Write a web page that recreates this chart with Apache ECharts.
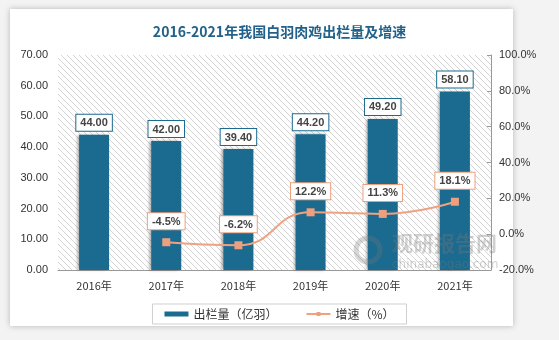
<!DOCTYPE html>
<html><head><meta charset="utf-8">
<script src="https://cdn.jsdelivr.net/npm/echarts@6/dist/echarts.min.js"></script>
<style>html,body{margin:0;padding:0;background:#f3f3f3;}#c{width:559px;height:340px;}</style>
</head><body><div id="c"></div>
<script>
const categories = ['2016年','2017年','2018年','2019年','2020年','2021年'];
const output = [44.00, 42.00, 39.40, 44.20, 49.20, 58.10];
const growth = [null, -4.5, -6.2, 12.2, 11.3, 18.1];
const leftTicks = [0,10,20,30,40,50,60,70];
const rightTicks = [-20,0,20,40,60,80,100];

const pc = document.createElement('canvas');
pc.width = 6; pc.height = 6;
const g = pc.getContext('2d');
g.fillStyle = '#ffffff'; g.fillRect(0,0,6,6);
g.strokeStyle = '#d4d4d4'; g.lineWidth = 1;
g.beginPath(); g.moveTo(-1,-1); g.lineTo(7,7); g.moveTo(-1,5); g.lineTo(1,7); g.moveTo(5,-1); g.lineTo(7,1); g.stroke();

const chart = echarts.init(document.getElementById('c'));
chart.setOption({
  animation: false,
  backgroundColor: '#f3f3f3',
  graphic: [
    {type:'rect', z:-10, shape:{x:10,y:9,width:503,height:317}, style:{fill:'#ffffff', shadowBlur:6, shadowColor:'rgba(0,0,0,0.25)'}},
    {type:'circle', z:5, shape:{cx:368, cy:250, r:12}, style:{fill:'none', stroke:'rgba(120,120,120,0.3)', lineWidth:5}},
    {type:'text', z:5, left:392, top:233, style:{text:'观研报告网', font:'bold 21px "Noto Sans CJK SC"', fill:'rgba(120,120,120,0.35)'}},
    {type:'text', z:5, left:392, top:259, style:{text:'chinabaogao.com', font:'12px "DejaVu Sans"', fill:'rgba(120,120,120,0.35)'}}
  ],
  title: {
    text: '2016-2021年我国白羽肉鸡出栏量及增速',
    left: 'center', top: 20,
    textStyle: {fontFamily:'"Noto Sans CJK SC"', fontSize:14, fontWeight:'bold', color:'#22628a'}
  },
  grid: {left:58, right:68, top:55, bottom:70, show:true, borderWidth:0,
    backgroundColor: {image: pc, repeat: 'repeat'}},
  legend: {
    bottom: 16, left: 'center',
    itemGap: 28,
    borderColor: '#d0d0d0', borderWidth: 1, padding: [4, 12],
    textStyle: {fontFamily:'"Noto Sans CJK SC"', fontSize:12, color:'#333'},
    data: [
      {name:'出栏量（亿羽）', icon:'rect', itemStyle:{color:'#1b6a8f'}},
      {name:'增速（%）'}
    ],
    itemWidth: 24, itemHeight: 5
  },
  xAxis: {
    type: 'category', data: categories,
    axisLine: {lineStyle:{color:'#999'}},
    axisTick: {show:false},
    axisLabel: {color:'#333', fontSize:11, margin:10, fontFamily:'"Noto Sans CJK SC"'}
  },
  yAxis: [
    {type:'value', min:0, max:70, interval:10,
     axisLine:{show:false}, axisTick:{show:false}, splitLine:{show:false},
     axisLabel:{color:'#333', fontSize:11, margin:10, formatter:v=>v.toFixed(2)}},
    {type:'value', min:-20, max:100, interval:20,
     axisLine:{show:true, lineStyle:{color:'#999'}},
     axisTick:{show:true, inside:true, length:4, lineStyle:{color:'#999'}},
     splitLine:{show:false},
     axisLabel:{color:'#333', fontSize:11, margin:8, formatter:v=>v.toFixed(1)+'%'}}
  ],
  series: [
    {name:'出栏量（亿羽）', type:'bar', data: output, barWidth: 30,
     itemStyle:{color:'#1b6a8f', shadowColor:'rgba(0,0,0,0.35)', shadowOffsetX:-2, shadowOffsetY:0, shadowBlur:3},
     label:{show:true, position:'top', distance:4, formatter:p=>p.value.toFixed(2),
       color:'#444', fontSize:11, fontWeight:'bold', backgroundColor:'#fff', borderColor:'#1b6a8f', borderWidth:1, padding:[3,4,2,4]}},
    {name:'增速（%）', type:'line', yAxisIndex:1, data: growth, smooth:true,
     symbol:'rect', symbolSize:8, connectNulls:false,
     lineStyle:{color:'#f0a27f', width:2},
     itemStyle:{color:'#eea07e'},
     label:{show:true, position:'top', distance:9, formatter:p=>p.value.toFixed(1)+'%',
       color:'#444', fontSize:11, fontWeight:'bold', backgroundColor:'#fff', borderColor:'#eea07e', borderWidth:1, padding:[3,4,2,4]}}
  ]
});
</script></body></html>
